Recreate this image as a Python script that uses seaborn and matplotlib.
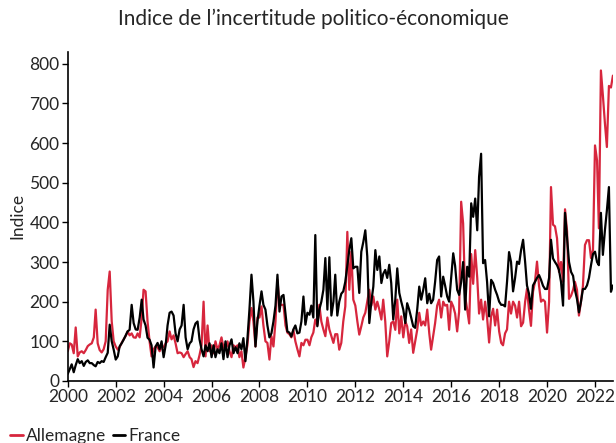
import numpy as np
import pandas as pd
import matplotlib
matplotlib.use("Agg")
import matplotlib.pyplot as plt
import matplotlib.dates as mdates
import seaborn as sns
from matplotlib.lines import Line2D

# Monthly index values, Jan 2000 - Oct 2022
allemagne = [
    75, 95, 92, 70, 135, 62, 72, 75, 70, 78, 88, 92,          # 2000
    95, 110, 180, 95, 78, 72, 80, 100, 230, 276, 150, 100,    # 2001
    87, 79, 85, 96, 105, 113, 125, 115, 120, 110, 109, 120,   # 2002
    110, 160, 230, 226, 150, 100, 62, 80, 87, 85, 75, 85,     # 2003
    85, 95, 100, 125, 105, 115, 95, 70, 72, 70, 60, 68,       # 2004
    75, 60, 55, 35, 50, 45, 65, 90, 200, 62, 140, 75,         # 2005
    90, 70, 100, 80, 90, 110, 85, 80, 100, 75, 60, 90,        # 2006
    85, 90, 60, 75, 34, 60, 90, 150, 184, 150, 87, 160,       # 2007
    160, 188, 140, 100, 96, 54, 113, 87, 150, 255, 190, 192,  # 2008
    192, 140, 122, 118, 110, 129, 100, 80, 62, 96, 90, 104,   # 2009
    104, 90, 110, 122, 155, 140, 192, 150, 130, 113, 160, 130,  # 2010
    113, 96, 118, 118, 79, 96, 150, 188, 376, 230, 326, 205,  # 2011
    190, 150, 117, 138, 160, 172, 200, 230, 190, 213, 180, 200,  # 2012
    180, 155, 205, 150, 62, 100, 146, 150, 129, 205, 120, 163,  # 2013
    110, 150, 138, 96, 130, 71, 100, 129, 172, 140, 150, 140,  # 2014
    180, 120, 79, 113, 146, 190, 205, 160, 200, 190, 192, 129,  # 2015
    200, 188, 170, 125, 175, 452, 397, 213, 180, 145, 320, 245,  # 2016
    330, 260, 170, 205, 155, 200, 160, 97, 163, 182, 140, 180,  # 2017
    125, 96, 90, 120, 130, 200, 170, 200, 190, 160, 200, 138,  # 2018
    147, 200, 232, 180, 139, 225, 250, 301, 240, 200, 205, 200,  # 2019
    122, 200, 489, 394, 390, 360, 275, 300, 250, 433, 378, 207,  # 2020
    215, 230, 250, 230, 165, 200, 240, 343, 355, 355, 310, 330,  # 2021
    594, 556, 385, 783, 720, 650, 590, 744, 740, 770,          # 2022
]
france = [
    18, 30, 42, 22, 40, 55, 45, 50, 38, 48, 52, 45,           # 2000
    45, 40, 37, 48, 45, 50, 48, 60, 71, 142, 100, 79,         # 2001
    54, 62, 87, 95, 104, 115, 125, 129, 192, 146, 130, 129,   # 2002
    160, 205, 155, 140, 109, 104, 90, 34, 87, 96, 80, 100,    # 2003
    60, 90, 140, 172, 175, 165, 120, 100, 130, 140, 192, 110,  # 2004
    80, 95, 100, 130, 145, 150, 105, 80, 62, 90, 75, 95,      # 2005
    60, 90, 60, 80, 70, 95, 55, 100, 60, 90, 105, 70,         # 2006
    85, 70, 95, 80, 108, 50, 105, 180, 268, 200, 87, 150,     # 2007
    190, 226, 192, 180, 140, 110, 120, 150, 190, 268, 175, 213,  # 2008
    217, 170, 125, 122, 112, 130, 140, 120, 122, 150, 213, 142,  # 2009
    172, 167, 190, 160, 368, 138, 180, 200, 230, 310, 180, 312,  # 2010
    165, 200, 268, 165, 200, 220, 226, 250, 290, 330, 360, 284,  # 2011
    288, 288, 222, 326, 350, 380, 314, 146, 200, 238, 330, 280,  # 2012
    314, 247, 270, 280, 260, 293, 247, 155, 205, 284, 222, 200,  # 2013
    180, 146, 196, 180, 160, 138, 134, 180, 238, 205, 230, 259,  # 2014
    196, 220, 196, 205, 250, 305, 314, 213, 263, 240, 213, 200,  # 2015
    260, 322, 290, 230, 217, 250, 300, 180, 288, 263, 448, 414,  # 2016
    460, 380, 515, 573, 297, 305, 250, 163, 255, 247, 230, 217,  # 2017
    200, 192, 192, 188, 250, 325, 300, 226, 260, 301, 295, 330,  # 2018
    356, 300, 241, 220, 182, 241, 250, 260, 267, 255, 240, 232,  # 2019
    232, 260, 356, 309, 300, 292, 280, 250, 190, 424, 360, 300,  # 2020
    275, 265, 230, 207, 173, 200, 232, 232, 241, 260, 292, 320,  # 2021
    326, 300, 292, 424, 318, 380, 430, 489, 225, 241,          # 2022
]
series_names = ["Allemagne", "France"]
colors = ["#d7263d", "#000000"]
title = "Indice de l\u2019incertitude politico-\u00e9conomique"
ylabel = "Indice"

dates = pd.date_range("2000-01-01", periods=len(allemagne), freq="MS")
df = pd.concat([
    pd.DataFrame({"date": dates, "value": allemagne, "pays": series_names[0]}),
    pd.DataFrame({"date": dates, "value": france, "pays": series_names[1]}),
])

sns.set_theme(style="ticks")
plt.rcParams["font.family"] = ["Lato", "DejaVu Sans"]

fig = plt.figure(figsize=(6.16, 4.43), dpi=100)
ax = fig.add_axes([0.110, 0.140, 0.885, 0.743])
sns.lineplot(data=df, x="date", y="value", hue="pays", hue_order=series_names,
             palette=colors, linewidth=1.6, ax=ax, legend=False)

ax.set_xlim(dates[0], dates[-1])
ax.set_ylim(0, 830)
ax.set_yticks(range(0, 801, 100))
ax.xaxis.set_major_locator(mdates.YearLocator(2))
ax.xaxis.set_major_formatter(mdates.DateFormatter("%Y"))
ax.tick_params(axis="both", labelsize=12.5, length=4, width=1, color="black", pad=2)
ax.set_xlabel("")
ax.set_ylabel(ylabel, fontsize=12.5, labelpad=3)
sns.despine(ax=ax)
for s in ["left", "bottom"]:
    ax.spines[s].set_linewidth(1.2)
    ax.spines[s].set_color("black")

fig.suptitle(title, fontsize=15, y=0.98, x=0.508)

handles = [Line2D([], [], color=c, lw=2) for c in colors]
fig.legend(handles, series_names, loc="lower left", bbox_to_anchor=(0.0, -0.025),
           ncol=2, frameon=False, fontsize=12.5, handlelength=0.7,
           handletextpad=0.2, columnspacing=0.4, borderaxespad=0.2)

fig.savefig("out.png", dpi=100)
